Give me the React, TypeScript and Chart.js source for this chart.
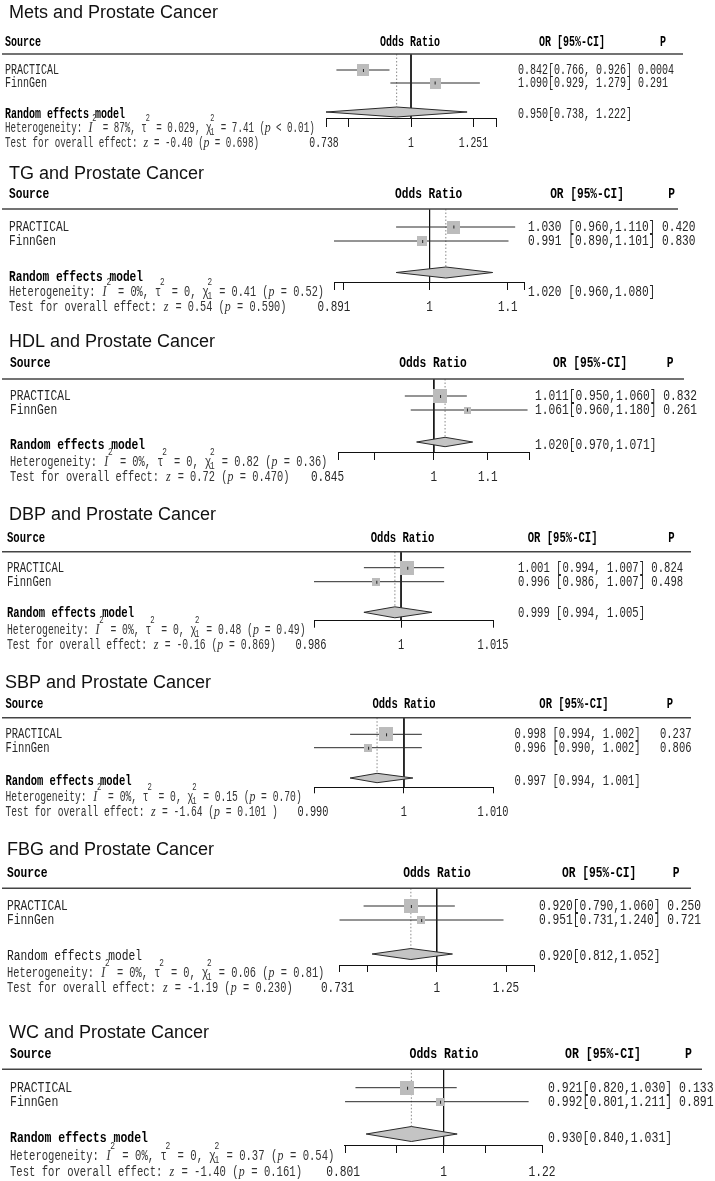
import React, { useEffect, useRef } from 'react';
import { Chart, registerables } from 'chart.js';

Chart.register(...registerables);

// ---------------- DATA ----------------
const panelTitles = [
  'Mets and Prostate Cancer',
  'TG and Prostate Cancer',
  'HDL and Prostate Cancer',
  'DBP and Prostate Cancer',
  'SBP and Prostate Cancer',
  'FBG and Prostate Cancer',
  'WC and Prostate Cancer',
];
const studyNames = ['PRACTICAL', 'FinnGen'];
const studyOR = [[0.842, 1.090], [1.030, 0.991], [1.011, 1.061], [1.001, 0.996], [0.998, 0.996], [0.920, 0.951], [0.921, 0.992]];
const studyLo = [[0.766, 0.929], [0.960, 0.890], [0.950, 0.960], [0.994, 0.986], [0.994, 0.990], [0.790, 0.731], [0.820, 0.801]];
const studyHi = [[0.926, 1.279], [1.110, 1.101], [1.060, 1.180], [1.007, 1.007], [1.002, 1.002], [1.060, 1.240], [1.030, 1.211]];
const studyP = [['0.0004', '0.291'], ['0.420', '0.830'], ['0.832', '0.261'], ['0.824', '0.498'], ['0.237', '0.806'], ['0.250', '0.721'], ['0.133', '0.891']];
const studyWeight = [[55, 45], [62, 38], [80, 20], [72, 28], [72, 28], [75, 25], [77, 23]];
const remOR = [0.950, 1.020, 1.020, 0.999, 0.997, 0.920, 0.930];
const remLo = [0.738, 0.960, 0.970, 0.994, 0.994, 0.812, 0.840];
const remHi = [1.222, 1.080, 1.071, 1.005, 1.001, 1.052, 1.031];
const hetI2 = ['87%', '0%', '0%', '0%', '0%', '0%', '0%'];
const hetTau2 = ['0.029', '0', '0', '0', '0', '0', '0'];
const hetChi2 = ['7.41', '0.41', '0.82', '0.48', '0.15', '0.06', '0.37'];
const hetP = ['< 0.01', '= 0.52', '= 0.36', '= 0.49', '= 0.70', '= 0.81', '= 0.54'];
const testZ = ['-0.40', '0.54', '0.72', '-0.16', '-1.64', '-1.19', '-1.40'];
const testP = ['0.698', '0.590', '0.470', '0.869', '0.101 ', '0.230', '0.161'];
const axisMin = [0.738, 0.891, 0.845, 0.986, 0.990, 0.731, 0.801];
const axisMax = [1.355, 1.122, 1.183, 1.015, 1.010, 1.368, 1.248];
const axisTicks = [
  [0.738, 0.8, 1, 1.25, 1.355],
  [0.891, 0.9, 1, 1.1, 1.122],
  [0.845, 0.9, 1, 1.1, 1.183],
  [0.986, 1, 1.015],
  [0.990, 1, 1.010],
  [0.731, 0.8, 1, 1.25, 1.368],
  [0.801, 0.9, 1, 1.1, 1.248],
];
const axisTickLabels = [
  ['0.738', '', '1', '1.251', ''],
  ['0.891', '', '1', '1.1', ''],
  ['0.845', '', '1', '1.1', ''],
  ['0.986', '1', '1.015'],
  ['0.990', '1', '1.010'],
  ['0.731', '', '1', '1.25', ''],
  ['0.801', '', '1', '', '1.22'],
];

// ---------------- LAYOUT (pixel positions / styles) ----------------
type Layout = {
  top: number; h: number; titleX: number; titleY: number; headY: number; lineY: number; lineR: number;
  oddsX: number; orX: number; pX: number; rows: number[]; remY: number; hetY: number; testY: number;
  axisY: number; axL: number; axR: number; tickLen: number; diaY: number; diaH: number; textX: number;
  valX: number; remValY: number; pColX?: number; cw: number; remBold: boolean; sb: boolean; sc: boolean;
  lblShift: number;
};
const layouts: Layout[] = [
  { top: 0, h: 160, titleX: 9, titleY: 11.7, headY: 42, lineY: 54, lineR: 683, oddsX: 410, orX: 572, pX: 663, rows: [70, 83], remY: 114, hetY: 128, testY: 143, axisY: 118, axL: 326, axR: 496, tickLen: 9, diaY: 112, diaH: 5, textX: 5, valX: 518, remValY: 114, cw: 6.0, remBold: true, sb: false, sc: true, lblShift: -2 },
  { top: 160, h: 160, titleX: 9, titleY: 172.7, headY: 194, lineY: 209, lineR: 678, oddsX: 428.6, orX: 587, pX: 671.5, rows: [227, 241], remY: 277, hetY: 292, testY: 307, axisY: 282, axL: 334, axR: 524, tickLen: 8, diaY: 272.5, diaH: 5.5, textX: 9, valX: 528, remValY: 292, cw: 6.7, remBold: true, sb: true, sc: false, lblShift: -1 },
  { top: 320, h: 175, titleX: 9, titleY: 340.7, headY: 363, lineY: 379, lineR: 684, oddsX: 433, orX: 590, pX: 670, rows: [396, 410], remY: 445, hetY: 462, testY: 477, axisY: 452, axL: 338.5, axR: 529, tickLen: 8, diaY: 442, diaH: 4.7, textX: 10, valX: 535, remValY: 445, cw: 6.75, remBold: true, sb: false, sc: false, lblShift: -11 },
  { top: 495, h: 170, titleX: 9, titleY: 513.3, headY: 538.3, lineY: 551.7, lineR: 691, oddsX: 402.5, orX: 562.6, pX: 671.5, rows: [567.7, 581.7], remY: 613.3, hetY: 630, testY: 645, axisY: 620.7, axL: 314, axR: 493, tickLen: 7, diaY: 612.3, diaH: 5.5, textX: 7, valX: 518, remValY: 613.3, cw: 6.35, remBold: true, sb: true, sc: true, lblShift: -3 },
  { top: 665, h: 165, titleX: 5, titleY: 681.7, headY: 704.3, lineY: 717.7, lineR: 691, oddsX: 404, orX: 574, pX: 670, rows: [734.3, 747.7], remY: 781, hetY: 796.7, testY: 811.7, axisY: 787.3, axL: 314, axR: 493, tickLen: 6, diaY: 778, diaH: 4.7, textX: 5.5, valX: 514.6, remValY: 781, pColX: 660, cw: 6.3, remBold: true, sb: true, sc: true, lblShift: -1 },
  { top: 830, h: 180, titleX: 7, titleY: 848.3, headY: 873.3, lineY: 888.3, lineR: 691, oddsX: 437, orX: 599, pX: 676, rows: [906, 920], remY: 956, hetY: 973.3, testY: 988.3, axisY: 965, axL: 339.5, axR: 534, tickLen: 7, diaY: 954, diaH: 5.5, textX: 7, valX: 539, remValY: 956, cw: 6.75, remBold: false, sb: false, sc: false, lblShift: -2 },
  { top: 1010, h: 171, titleX: 9, titleY: 1031.7, headY: 1054.3, lineY: 1069.3, lineR: 702, oddsX: 444, orX: 603, pX: 688.5, rows: [1087.7, 1101.7], remY: 1137.7, hetY: 1155.7, testY: 1171.7, axisY: 1145, axL: 344.5, axR: 542, tickLen: 8, diaY: 1134, diaH: 7.5, textX: 10, valX: 548, remValY: 1137.7, cw: 6.9, remBold: true, sb: false, sc: false, lblShift: -2 },
];

const W = 715;
const MONO = '"Liberation Mono", "DejaVu Sans Mono", monospace';
const SERIF = '"Liberation Serif", "DejaVu Serif", serif';
const SANS = '"Liberation Sans", Arial, sans-serif';
const FS = 14;
const TEXT = '#262626';

function fmt3(v: number) { return v.toFixed(3); }

function makeSquare(weight: number): HTMLCanvasElement {
  const s = Math.max(5, Math.round(1.6 * Math.sqrt(weight)));
  const c = document.createElement('canvas');
  c.width = s; c.height = s;
  const g = c.getContext('2d')!;
  g.fillStyle = '#bcbcbc';
  g.fillRect(0, 0, s, s);
  g.fillStyle = '#222';
  const m = Math.floor(s / 2);
  g.fillRect(m, m - 1, 1, 3);
  return c;
}

function monoText(ctx: CanvasRenderingContext2D, text: string, x: number, y: number, cw: number, font: string) {
  ctx.font = font;
  const adv = ctx.measureText('0').width || 1;
  const s = cw / adv;
  ctx.save();
  ctx.translate(x, y);
  ctx.scale(s, 1);
  ctx.fillText(text, 0, 0);
  ctx.restore();
  return text.length * cw;
}

function monoCenter(ctx: CanvasRenderingContext2D, text: string, cx: number, y: number, cw: number, font: string) {
  monoText(ctx, text, cx - (text.length * cw) / 2, y, cw, font);
}

type Seg = { t?: string; it?: boolean; sup?: string; sub?: string };

function richText(ctx: CanvasRenderingContext2D, segs: Seg[], x: number, y: number, cw: number) {
  let cx = x;
  const normal = `${FS}px ${MONO}`;
  const ital = `italic ${FS}px ${SERIF}`;
  const small = `10px ${MONO}`;
  for (const s of segs) {
    if (s.t) {
      if (s.it) {
        for (const ch of s.t) {
          ctx.font = ital;
          const w = ctx.measureText(ch).width * 0.85;
          ctx.save();
          ctx.translate(cx + (cw - w) / 2, y);
          ctx.scale(0.85, 1);
          ctx.fillText(ch, 0, 0);
          ctx.restore();
          cx += cw;
        }
      } else {
        cx += monoText(ctx, s.t, cx, y, cw, normal);
      }
    }
    if (s.sup || s.sub) {
      if (s.sup) monoText(ctx, s.sup, cx - 0.2 * cw, y - 11, cw * 0.75, small);
      if (s.sub) monoText(ctx, s.sub, cx - 0.2 * cw, y + 3, cw * 0.75, small);
      cx += 0.7 * cw;
    }
  }
}

function Panel({ idx }: { idx: number }) {
  const ref = useRef<HTMLCanvasElement | null>(null);
  const L = layouts[idx];

  useEffect(() => {
    const canvas = ref.current;
    if (!canvas) return;
    const i = idx;
    const T = L.top;
    const yMax = L.axisY - L.lineY;
    const rowsRel = L.rows.map((r) => r - L.lineY);
    const dRel = L.diaY - L.lineY;
    const imgs = studyWeight[i].map((w) => makeSquare(w));

    const datasets: any[] = [];
    datasets.push({
      data: [
        { x: remLo[i], y: dRel },
        { x: remOR[i], y: dRel - L.diaH },
        { x: remHi[i], y: dRel },
        { x: remOR[i], y: dRel + L.diaH },
        { x: remLo[i], y: dRel },
      ],
      borderColor: '#2a2a2a', borderWidth: 1, backgroundColor: '#c4c4c4', fill: 'shape',
      pointRadius: 0, tension: 0, clip: false,
    });
    datasets.push({
      data: studyOR[i].map((v, k) => ({ x: v, y: rowsRel[k] })),
      showLine: false,
      pointStyle: (c: any) => imgs[c.dataIndex ?? 0],
      pointRadius: 5, clip: false,
    });
    studyNames.forEach((_, k) => {
      datasets.push({
        data: [{ x: studyLo[i][k], y: rowsRel[k] }, { x: studyHi[i][k], y: rowsRel[k] }],
        borderColor: '#2a2a2a', borderWidth: 1, pointRadius: 0, clip: false,
      });
    });
    datasets.push({
      data: [{ x: remOR[i], y: 0 }, { x: remOR[i], y: dRel }],
      borderColor: '#888', borderWidth: 1, borderDash: [1.5, 2], pointRadius: 0, clip: false,
    });
    datasets.push({
      data: [{ x: 1, y: 0 }, { x: 1, y: yMax }],
      borderColor: '#111', borderWidth: 1, pointRadius: 0, clip: false,
    });

    const textPlugin = {
      id: 'forestText' + i,
      afterDraw(chart: any) {
        const ctx: CanvasRenderingContext2D = chart.ctx;
        ctx.save();
        ctx.textAlign = 'left';
        ctx.textBaseline = 'alphabetic';
        // title
        ctx.fillStyle = '#111';
        ctx.font = `18px ${SANS}`;
        ctx.fillText(panelTitles[i], L.titleX, L.titleY - T + 6.5);
        // headers
        const bold = `bold ${FS}px ${MONO}`;
        const normal = `${FS}px ${MONO}`;
        ctx.fillStyle = '#000';
        const hy = L.headY - T + 4;
        monoText(ctx, 'Source', L.textX, hy, L.cw, bold);
        monoCenter(ctx, 'Odds Ratio', L.oddsX, hy, L.cw, bold);
        monoCenter(ctx, 'OR [95%-CI]', L.orX, hy, L.cw, bold);
        monoCenter(ctx, 'P', L.pX, hy, L.cw, bold);
        // header rule
        ctx.strokeStyle = '#444';
        ctx.lineWidth = 1.5;
        ctx.beginPath();
        ctx.moveTo(2, L.lineY - T);
        ctx.lineTo(L.lineR, L.lineY - T);
        ctx.stroke();
        // study rows
        ctx.fillStyle = TEXT;
        studyNames.forEach((name, k) => {
          const y = L.rows[k] - T + 4;
          monoText(ctx, name, L.textX, y, L.cw, normal);
          let s = fmt3(studyOR[i][k]) + (L.sb ? ' ' : '') + '[' + fmt3(studyLo[i][k]) + (L.sc ? ', ' : ',') + fmt3(studyHi[i][k]) + ']';
          if (L.pColX === undefined) {
            s += ' ' + studyP[i][k];
          } else {
            monoText(ctx, studyP[i][k], L.pColX, y, L.cw, normal);
          }
          monoText(ctx, s, L.valX, y, L.cw, normal);
        });
        // random effects row
        ctx.fillStyle = L.remBold ? '#000' : '#1a1a1a';
        monoText(ctx, 'Random effects model', L.textX, L.remY - T + 4, L.cw, L.remBold ? bold : normal);
        ctx.fillStyle = TEXT;
        const rs = fmt3(remOR[i]) + (L.sb ? ' ' : '') + '[' + fmt3(remLo[i]) + (L.sc ? ', ' : ',') + fmt3(remHi[i]) + ']';
        monoText(ctx, rs, L.valX, L.remValY - T + 4, L.cw, normal);
        // heterogeneity & test
        const sw = L.cw * 0.92;
        ctx.fillStyle = '#333';
        richText(ctx, [
          { t: 'Heterogeneity: ' }, { t: 'I', it: true }, { sup: '2' },
          { t: ` = ${hetI2[i]}, ` }, { t: 'τ' }, { sup: '2' },
          { t: ` = ${hetTau2[i]}, ` }, { t: 'χ' }, { sup: '2', sub: '1' },
          { t: ` = ${hetChi2[i]} (` }, { t: 'p', it: true }, { t: ` ${hetP[i]})` },
        ], L.textX, L.hetY - T + 4, sw);
        richText(ctx, [
          { t: 'Test for overall effect: ' }, { t: 'z', it: true },
          { t: ` = ${testZ[i]} (` }, { t: 'p', it: true }, { t: ` = ${testP[i]})` },
        ], L.textX, L.testY - T + 4, sw);
        // tick labels
        ctx.fillStyle = TEXT;
        const xs = chart.scales.x;
        axisTicks[i].forEach((v, k) => {
          const lab = axisTickLabels[i][k];
          if (!lab) return;
          let px = xs.getPixelForValue(v);
          if (k === 0) px += L.lblShift;
          monoCenter(ctx, lab, px, L.testY - T + 4, L.cw * 0.98, normal);
        });
        ctx.restore();
      },
    };

    const chart = new Chart(canvas, {
      type: 'line',
      data: { datasets },
      options: {
        animation: false,
        responsive: false,
        maintainAspectRatio: false,
        devicePixelRatio: 1,
        events: [],
        layout: {
          padding: {
            left: L.axL,
            right: W - L.axR,
            top: L.lineY - T,
            bottom: L.h - (L.axisY - T),
          },
        },
        plugins: { legend: { display: false }, tooltip: { enabled: false } },
        scales: {
          x: {
            type: 'logarithmic',
            min: axisMin[i],
            max: axisMax[i],
            position: 'bottom',
            afterBuildTicks: (s: any) => { s.ticks = axisTicks[i].map((v) => ({ value: v })); },
            afterFit: (s: any) => { s.height = 0; },
            ticks: { display: false },
            grid: { display: true, drawOnChartArea: false, drawTicks: true, tickLength: L.tickLen, tickColor: '#111', tickWidth: 1, color: '#111' },
            border: { display: true, color: '#111', width: 1 },
          },
          y: { type: 'linear', display: false, reverse: true, min: 0, max: yMax },
        },
      } as any,
      plugins: [textPlugin],
    });
    return () => chart.destroy();
  }, [idx]);

  return (
    <canvas
      ref={ref}
      width={W}
      height={L.h}
      style={{ position: 'absolute', left: 0, top: L.top, width: W, height: L.h, display: 'block' }}
    />
  );
}

export default function App() {
  return (
    <div style={{ position: 'absolute', left: 0, top: 0, width: W, height: 1181, background: '#fff', overflow: 'hidden' }}>
      {layouts.map((_, i) => (
        <Panel key={i} idx={i} />
      ))}
    </div>
  );
}
